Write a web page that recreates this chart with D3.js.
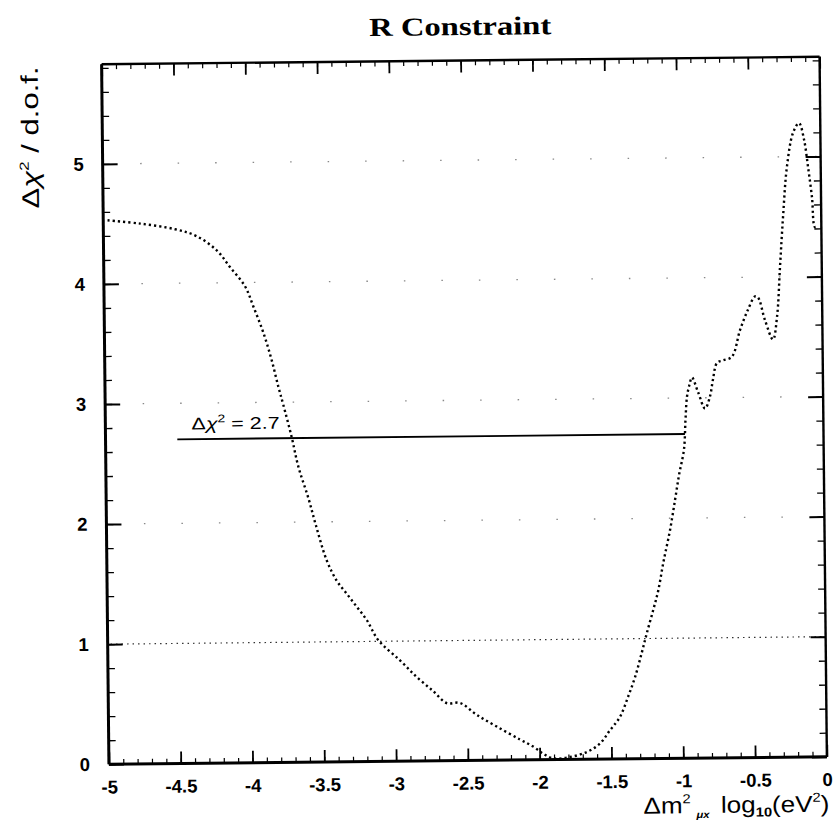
<!DOCTYPE html>
<html>
<head>
<meta charset="utf-8">
<script src="https://cdn.jsdelivr.net/npm/d3@7"></script>
<style>
  html, body { margin: 0; padding: 0; background: #fff; }
  svg { display: block; }
</style>
</head>
<body>
<svg id="chart" width="836" height="825"></svg>
<script>
// ---- data ----
const curveX = [-4.97, -4.744, -4.501, -4.351, -4.212, -4.121, -4.018, -3.961, -3.893, -3.837,
  -3.793, -3.760, -3.704, -3.659, -3.592, -3.541, -3.469, -3.401, -3.332, -3.263,
  -3.195, -3.115, -2.966, -2.851, -2.736, -2.644, -2.551, -2.436, -2.297, -2.136,
  -2.044, -1.975, -1.905, -1.789, -1.672, -1.579, -1.508, -1.438, -1.379, -1.330,
  -1.282, -1.246, -1.198, -1.162, -1.125, -1.076, -1.039, -1.009, -0.973, -0.960,
  -0.948, -0.930, -0.912, -0.871, -0.823, -0.788, -0.766, -0.736, -0.694, -0.632,
  -0.574, -0.517, -0.467, -0.446, -0.399, -0.345, -0.315, -0.291, -0.266, -0.235,
  -0.190, -0.148, -0.114, -0.088, -0.063, -0.044, -0.023];
const curveY = [4.53, 4.50, 4.45, 4.39, 4.27, 4.13, 3.97, 3.80, 3.58, 3.35,
  3.13, 2.98, 2.71, 2.46, 2.20, 1.97, 1.68, 1.51, 1.40, 1.29,
  1.18, 1.01, 0.84, 0.70, 0.58, 0.48, 0.48, 0.38, 0.28, 0.17,
  0.11, 0.05, 0.01, 0.02, 0.06, 0.13, 0.24, 0.35, 0.52, 0.68,
  0.88, 1.04, 1.24, 1.40, 1.63, 1.90, 2.15, 2.36, 2.57, 2.82,
  3.01, 3.11, 3.17, 3.05, 2.91, 3.01, 3.15, 3.29, 3.31, 3.34,
  3.56, 3.73, 3.84, 3.83, 3.64, 3.48, 3.67, 4.08, 4.50, 4.92,
  5.20, 5.28, 5.14, 4.91, 4.66, 4.41, 4.42];

const cutX = [-4.5, -0.965];
const cutValue = 2.7;
const cutLabel = "2.7";

const xDomain = [-5, 0];
const yDomain = [0, 5.83];
const xTicks = [-5, -4.5, -4, -3.5, -3, -2.5, -2, -1.5, -1, -0.5, 0];
const xTickLabels = ["-5", "-4.5", "-4", "-3.5", "-3", "-2.5", "-2", "-1.5", "-1", "-0.5", "0"];
const yTicks = [0, 1, 2, 3, 4, 5];
const yTickLabels = ["0", "1", "2", "3", "4", "5"];
const xMinorTicks = d3.range(-50, 1).map(i => i / 10);
const yMinorTicks = d3.range(0, 30).map(i => +(i * 0.2).toFixed(1));
const gridY = [2, 3, 4, 5];
const refLineY = [1];

const titleText = "R Constraint";

// ---- layout ----
const W = 836, H = 825;
const m = { left: 105.25, top: 60.5 };
const w = 718, h = 700;
const cx = m.left + w / 2, cy = m.top + h / 2;

const svg = d3.select("#chart");
svg.append("rect").attr("width", W).attr("height", H).attr("fill", "#fff");

const outer = svg.append("g").attr("transform", `rotate(-0.6, ${cx}, ${cy})`);
const g = outer.append("g").attr("transform", `translate(${m.left},${m.top})`);

const x = d3.scaleLinear().domain(xDomain).range([0, w]);
const y = d3.scaleLinear().domain(yDomain).range([h, 0]);

const sans = "'Liberation Sans', Arial, Helvetica, sans-serif";

// grid
g.selectAll(".grid").data(gridY).enter().append("line")
  .attr("x1", 0).attr("x2", w).attr("y1", d => y(d)).attr("y2", d => y(d))
  .attr("stroke", "#888").attr("stroke-width", 1.3)
  .attr("stroke-dasharray", "1.5,36");
g.selectAll(".ref").data(refLineY).enter().append("line")
  .attr("x1", x(-4.98)).attr("x2", w - 2).attr("y1", d => y(d)).attr("y2", d => y(d))
  .attr("stroke", "#333").attr("stroke-width", 1.2)
  .attr("stroke-dasharray", "1.5,4");

// axes (inward ticks on all four sides)
function styleAxis(sel, sw) {
  sel.select(".domain").remove();
  sel.selectAll(".tick line").attr("stroke", "#000").attr("stroke-width", sw);
}
g.append("g").attr("transform", `translate(0,${h})`)
  .call(d3.axisBottom(x).tickValues(xMinorTicks).tickSize(-5).tickFormat(""))
  .call(s => styleAxis(s, 1.2));
g.append("g")
  .call(d3.axisTop(x).tickValues(xMinorTicks).tickSize(-5).tickFormat(""))
  .call(s => styleAxis(s, 1.2));
g.append("g")
  .call(d3.axisLeft(y).tickValues(yMinorTicks).tickSize(-7).tickFormat(""))
  .call(s => styleAxis(s, 1.3));
g.append("g").attr("transform", `translate(${w},0)`)
  .call(d3.axisRight(y).tickValues(yMinorTicks).tickSize(-7).tickFormat(""))
  .call(s => styleAxis(s, 1.3));

const xAxis = g.append("g").attr("transform", `translate(0,${h})`)
  .call(d3.axisBottom(x).tickValues(xTicks).tickSize(-12).tickPadding(16)
    .tickFormat((d, i) => xTickLabels[i]))
  .call(s => styleAxis(s, 1.8));
xAxis.selectAll("text").attr("font-family", sans).attr("font-weight", "bold")
  .attr("font-size", 18.5).attr("fill", "#000");

g.append("g")
  .call(d3.axisTop(x).tickValues(xTicks).tickSize(-12).tickFormat(""))
  .call(s => styleAxis(s, 1.8));

const yAxis = g.append("g")
  .call(d3.axisLeft(y).tickValues(yTicks).tickSize(-15).tickPadding(19)
    .tickFormat((d, i) => yTickLabels[i]))
  .call(s => styleAxis(s, 2));
yAxis.selectAll("text").attr("font-family", sans).attr("font-weight", "bold")
  .attr("font-size", 18.5).attr("fill", "#000");

g.append("g").attr("transform", `translate(${w},0)`)
  .call(d3.axisRight(y).tickValues(yTicks).tickSize(-15).tickFormat(""))
  .call(s => styleAxis(s, 2));

// frame
g.append("line").attr("x1", 0).attr("x2", 0).attr("y1", 0).attr("y2", h)
  .attr("stroke", "#000").attr("stroke-width", 3);
g.append("line").attr("x1", 0).attr("x2", w).attr("y1", h).attr("y2", h)
  .attr("stroke", "#000").attr("stroke-width", 3);
g.append("line").attr("x1", 0).attr("x2", w).attr("y1", 0).attr("y2", 0)
  .attr("stroke", "#000").attr("stroke-width", 2.4);
g.append("line").attr("x1", w).attr("x2", w).attr("y1", 0).attr("y2", h)
  .attr("stroke", "#000").attr("stroke-width", 2.4);

// cut line Δχ² = 2.7
g.append("line")
  .attr("x1", x(cutX[0])).attr("x2", x(cutX[1]))
  .attr("y1", y(cutValue)).attr("y2", y(cutValue))
  .attr("stroke", "#000").attr("stroke-width", 1.8);

const lab = g.append("text")
  .attr("x", x(-4.4)).attr("y", y(2.78))
  .attr("font-family", sans).attr("font-size", 17).attr("fill", "#000")
  .attr("textLength", 88).attr("lengthAdjust", "spacingAndGlyphs");
lab.append("tspan").text("Δ");
lab.append("tspan").attr("font-style", "italic").text("χ");
lab.append("tspan").attr("font-size", 11).attr("dy", -7).text("2");
lab.append("tspan").attr("dy", 7).text(" = " + cutLabel);

// the curve
const pts = curveX.map((d, i) => [d, curveY[i]]);
g.append("path")
  .datum(pts)
  .attr("fill", "none")
  .attr("stroke", "#000")
  .attr("stroke-width", 2.4)
  .attr("stroke-dasharray", "2.2,3")
  .attr("d", d3.line().x(d => x(d[0])).y(d => y(d[1])).curve(d3.curveCatmullRom.alpha(0.5)));

// title
g.append("text")
  .attr("x", w / 2).attr("y", -25.5)
  .attr("text-anchor", "middle")
  .attr("font-family", "'Liberation Serif', 'Times New Roman', serif")
  .attr("font-weight", "bold").attr("font-size", 26)
  .attr("textLength", 182).attr("lengthAdjust", "spacingAndGlyphs")
  .text(titleText);

// y axis title
const yt = g.append("text")
  .attr("transform", `translate(-64,${72.5}) rotate(-90)`)
  .attr("text-anchor", "middle")
  .attr("font-family", sans).attr("font-size", 24).attr("fill", "#000")
  .attr("textLength", 142).attr("lengthAdjust", "spacingAndGlyphs");
yt.append("tspan").text("Δ");
yt.append("tspan").attr("font-style", "italic").text("χ");
yt.append("tspan").attr("font-size", 13).attr("dy", -10).text("2");
yt.append("tspan").attr("dy", 10).text(" / d.o.f.");

// x axis title
const xt = g.append("text")
  .attr("x", w + 2).attr("y", h + 55)
  .attr("text-anchor", "end")
  .attr("font-family", sans).attr("font-size", 23).attr("fill", "#000")
  .attr("textLength", 186).attr("lengthAdjust", "spacingAndGlyphs");
xt.append("tspan").text("Δm");
xt.append("tspan").attr("font-size", 13).attr("dy", -10).text("2");
xt.append("tspan").attr("font-size", 10).attr("font-weight", "bold").attr("font-style", "italic")
  .attr("dy", 15).attr("dx", 5).text("μx");
xt.append("tspan").attr("dy", -5).attr("dx", 10).text("log");
xt.append("tspan").attr("font-size", 13).attr("font-weight", "bold").attr("dy", 4).text("10");
xt.append("tspan").attr("dy", -4).text("(eV");
xt.append("tspan").attr("font-size", 13).attr("dy", -10).text("2");
xt.append("tspan").attr("dy", 10).text(")");
</script>
</body>
</html>
